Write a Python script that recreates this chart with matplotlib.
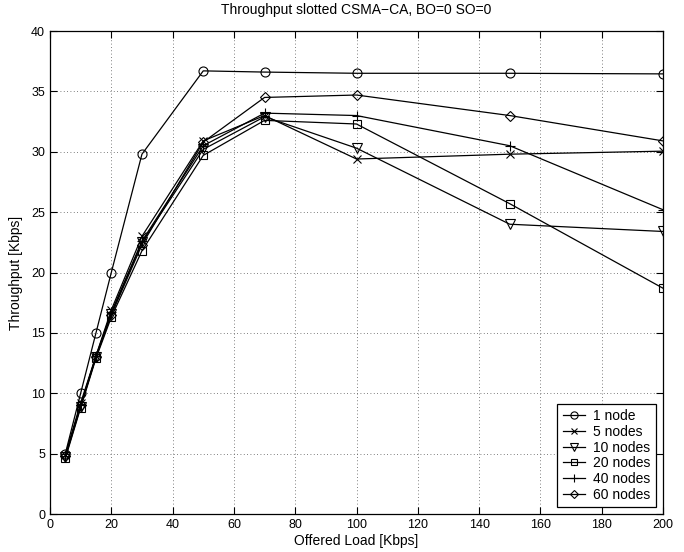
import matplotlib
matplotlib.use("Agg")
import matplotlib.pyplot as plt

plt.rcParams['font.family'] = ['Liberation Sans', 'DejaVu Sans']

offered_load = [5, 10, 15, 20, 30, 50, 70, 100, 150, 200]
labels = ["1 node", "5 nodes", "10 nodes", "20 nodes", "40 nodes", "60 nodes"]
markers = ["o", "x", "v", "s", "+", "D"]
thr_1 = [5.0, 10.0, 15.0, 20.0, 29.8, 36.7, 36.6, 36.5, 36.5, 36.45]
thr_5 = [4.9, 9.2, 13.1, 16.9, 23.0, 30.9, 33.0, 29.4, 29.8, 30.05]
thr_10 = [4.7, 8.9, 13.0, 16.6, 22.5, 30.2, 32.9, 30.3, 24.0, 23.4]
thr_20 = [4.6, 8.8, 12.9, 16.3, 21.8, 29.7, 32.6, 32.3, 25.7, 18.7]
thr_40 = [4.8, 9.0, 13.1, 16.7, 22.6, 30.5, 33.2, 33.0, 30.5, 25.2]
thr_60 = [4.8, 9.0, 13.0, 16.5, 22.3, 30.8, 34.5, 34.7, 33.0, 30.9]
series = [thr_1, thr_5, thr_10, thr_20, thr_40, thr_60]

fig = plt.figure(figsize=(6.84, 5.52), dpi=100)
ax = fig.add_axes([0.0731, 0.0688, 0.8962, 0.875])

sizes = {"o": 6.5, "x": 5.5, "v": 6.5, "s": 6, "+": 7, "D": 5.5}
for y, m, lab in zip(series, markers, labels):
    ax.plot(offered_load, y, color="black", linewidth=0.9, marker=m,
            markersize=sizes[m], markerfacecolor="none", markeredgecolor="black",
            markeredgewidth=0.8, label=lab)

ax.set_xlim(0, 200)
ax.set_ylim(0, 40)
ax.set_xticks(range(0, 201, 20))
ax.set_yticks(range(0, 41, 5))
ax.grid(True, linestyle=(0, (1, 3)), color="#555555", linewidth=0.6)
ax.tick_params(direction="in", top=True, right=True, labelsize=9, length=5, width=0.8)
for s in ax.spines.values():
    s.set_linewidth(0.9)

ax.set_xlabel("Offered Load [Kbps]", fontsize=10, labelpad=2)
ax.set_ylabel("Throughput [Kbps]", fontsize=10, labelpad=6)
ax.set_title("Throughput slotted CSMA\u2212CA, BO=0 SO=0", fontsize=10, pad=12)

leg = ax.legend(loc="lower right", fontsize=10, fancybox=False, framealpha=1,
                edgecolor="black", borderaxespad=0.5, handlelength=1.6,
                labelspacing=0.12, borderpad=0.4, handletextpad=0.6,
                markerscale=0.8)
leg.get_frame().set_linewidth(0.9)

fig.savefig("out.png", dpi=100)
